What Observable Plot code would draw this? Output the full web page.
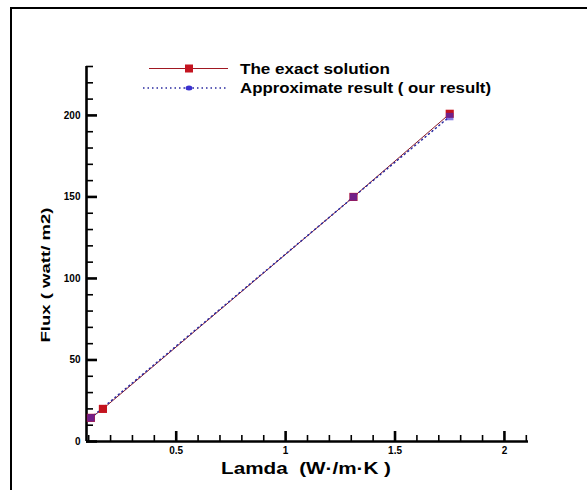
<!DOCTYPE html>
<html><head><meta charset="utf-8">
<script src="https://cdn.jsdelivr.net/npm/d3@7"></script>
<script src="https://cdn.jsdelivr.net/npm/@observablehq/plot@0.6"></script>
<style>
body{margin:0;background:#fff}
#chart{position:relative;width:587px;height:490px;overflow:hidden}
#pad{position:absolute;right:2px;bottom:2px;width:4px;height:4px;background:#fff}
</style>
</head><body><div id="chart"><div id="pad"></div></div>
<script>
// Data
const lamdaExact = [0.11, 0.165, 1.31, 1.75];
const fluxExact = [14.5, 20, 150, 201];
const lamdaApprox = [0.11, 1.31, 1.75];
const fluxApprox = [14.5, 150, 199.3];

// Tick labels / positions
const xMajorTicks = [0.5, 1, 1.5, 2];
const xMajorLabels = ["0.5", "1", "1.5", "2"];
const xMinorTicks = [0.1, 0.2, 0.3, 0.4, 0.6, 0.7, 0.8, 0.9, 1.1, 1.2, 1.3, 1.4, 1.6, 1.7, 1.8, 1.9, 2.1];
const yMajorTicks = [0, 50, 100, 150, 200];
const yMajorLabels = ["0", "50", "100", "150", "200"];
const yMinorTicks = [10, 20, 30, 40, 60, 70, 80, 90, 110, 120, 130, 140, 160, 170, 180, 190, 210, 220, 230];

const seriesNames = ["The exact solution", "Approximate result ( our result)"];
const xTitle = "Lamda  (W\u00b7/m\u00b7K )";
const yTitle = "Flux ( watt/ m2)";

const exact = lamdaExact.map((x, i) => ({lamda: x, flux: fluxExact[i]}));
const approx = lamdaApprox.map((x, i) => ({lamda: x, flux: fluxApprox[i]}));

const X0 = 0.09, X1 = 2.11, Y0 = 0, Y1 = 230;
const W = 587, H = 490, ML = 86, MR = 59, MT = 66, MB = 49;
// tick lengths expressed in data units of the opposite scale
const pxX = (X1 - X0) / (W - ML - MR);
const pxY = (Y1 - Y0) / (H - MT - MB);
const font = "'Liberation Sans', Arial, sans-serif";

const plot = Plot.plot({
  width: W, height: H, marginLeft: ML, marginRight: MR, marginTop: MT, marginBottom: MB,
  style: {fontFamily: font, fontSize: "10px", fontWeight: "bold", background: "#fff", color: "#000"},
  x: {domain: [X0, X1], axis: null},
  y: {domain: [Y0, Y1], axis: null},
  marks: [
    // minor ticks (inward)
    Plot.ruleX(xMinorTicks, {x: d => d, y1: Y0, y2: Y0 + 6 * pxY, stroke: "#000", strokeWidth: 1.6}),
    Plot.ruleY(yMinorTicks, {y: d => d, x1: X0, x2: X0 + 7 * pxX, stroke: "#000", strokeWidth: 1.6}),
    // major ticks (inward)
    Plot.ruleX(xMajorTicks, {x: d => d, y1: Y0, y2: Y0 + 10 * pxY, stroke: "#000", strokeWidth: 2.6}),
    Plot.ruleY(yMajorTicks, {y: d => d, x1: X0, x2: X0 + 11 * pxX, stroke: "#000", strokeWidth: 2.6}),
    // tick labels
    Plot.axisX(xMajorTicks, {anchor: "bottom", tickSize: 0, tickPadding: 5, tickFormat: (d, i) => xMajorLabels[i], label: null}),
    Plot.axisY(yMajorTicks, {anchor: "left", tickSize: 0, tickPadding: 6, tickFormat: (d, i) => yMajorLabels[i], label: null}),
    // axis lines
    Plot.ruleY([Y0], {x1: X0, x2: X1, stroke: "#000", strokeWidth: 2.6}),
    Plot.ruleX([X0], {y1: Y0, y2: Y1, stroke: "#000", strokeWidth: 2.6}),
    // series
    Plot.line(exact, {x: "lamda", y: "flux", stroke: "#8a1c2a", strokeWidth: 1}),
    Plot.line(approx, {x: "lamda", y: "flux", stroke: "#2a2aa0", strokeWidth: 1.5, strokeDasharray: "1 3.5"}),
    Plot.dot(exact, {x: "lamda", y: "flux", symbol: "square", r: 4.6, fill: "#c41420", stroke: "none"}),
    Plot.dot(approx, {x: "lamda", y: "flux", symbol: "square", r: 4.2, fill: "#3a28d0", fillOpacity: 0.6, stroke: "none"})
  ]
});

document.getElementById("chart").insertBefore(plot, document.getElementById("pad"));
const svg = d3.select(plot);

// outer frame (top + left edges visible in reference)
const frame = svg.append("g").attr("stroke", "#000").attr("stroke-width", 2);
frame.append("path").attr("d", "M11,490V8H587").attr("fill", "none");

// legend
const lg = svg.append("g").attr("font-family", font).attr("font-weight", "bold").attr("font-size", "15px").attr("text-anchor", "start");
lg.append("path").attr("d", "M149,68.5H228").attr("stroke", "#a01822").attr("stroke-width", 1.2);
lg.append("rect").attr("x", 185).attr("y", 64.5).attr("width", 8).attr("height", 8).attr("fill", "#c41420");
lg.append("text").attr("x", 240).attr("y", 74).attr("textLength", 150).attr("lengthAdjust", "spacingAndGlyphs").text(seriesNames[0]);
lg.append("path").attr("d", "M143,88H228").attr("stroke", "#2a2aa0").attr("stroke-width", 1.6).attr("stroke-dasharray", "1.5 3");
lg.append("ellipse").attr("cx", 189).attr("cy", 88).attr("rx", 3.5).attr("ry", 2.5).attr("fill", "#3a30d0");
lg.append("text").attr("x", 240).attr("y", 93).attr("textLength", 251).attr("lengthAdjust", "spacingAndGlyphs").text(seriesNames[1]);

// axis titles
svg.append("text").attr("x", 306).attr("y", 474).attr("text-anchor", "middle")
  .attr("font-family", font).attr("font-weight", "bold").attr("font-size", "17px")
  .attr("textLength", 170).attr("lengthAdjust", "spacingAndGlyphs").text(xTitle);
svg.append("text").attr("transform", "translate(50,275) rotate(-90)").attr("text-anchor", "middle")
  .attr("font-family", font).attr("font-weight", "bold").attr("font-size", "12px")
  .attr("textLength", 135).attr("lengthAdjust", "spacingAndGlyphs").text(yTitle);
</script>
</body></html>
